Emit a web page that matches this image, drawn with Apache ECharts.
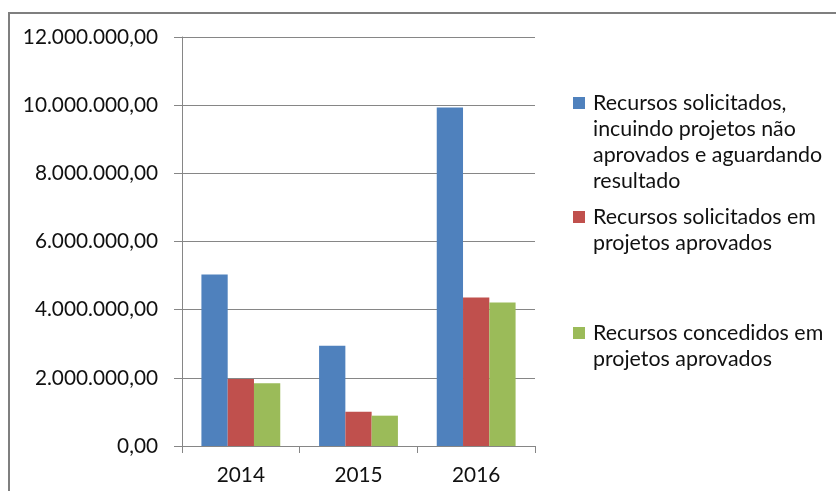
<!DOCTYPE html>
<html>
<head>
<meta charset="utf-8">
<script src="https://cdn.jsdelivr.net/npm/echarts@6/dist/echarts.min.js"></script>
<style>html,body{margin:0;padding:0;background:#fff}#c{width:836px;height:491px}</style>
</head>
<body>
<div id="c"></div>
<script>
const categories = ['2014', '2015', '2016'];
const seriesNames = [
  'Recursos solicitados,\nincuindo projetos não\naprovados e aguardando\nresultado',
  'Recursos solicitados em\nprojetos aprovados',
  'Recursos concedidos em\nprojetos aprovados'
];
const solicitadosTotal = [5035000, 2940000, 9930000];
const solicitadosAprovados = [1965000, 1005000, 4360000];
const concedidosAprovados = [1840000, 890000, 4210000];
const yTicks = { min: 0, max: 12000000, interval: 2000000 };

const colors = ['#4F81BD', '#C0504D', '#9BBB59'];
const FONT = 'Lato';
const FS = 20.8;
const LEG_FS = 21.4;
const LH = 26;

function brl(v) {
  const s = Math.round(v).toString().replace(/\B(?=(\d{3})+(?!\d))/g, '.');
  return s + ',00';
}
function iconFor(lines) {
  const h = lines * LH;
  return 'path://M0,0L15,0Z M0,7L12,7L12,19L0,19Z M0,' + h + 'L15,' + h + 'Z';
}
function legendFor(i, top) {
  const lines = seriesNames[i].split('\n').length;
  return {
    data: [seriesNames[i]],
    left: 573,
    top: top,
    padding: 0,
    orient: 'vertical',
    selectedMode: false,
    icon: iconFor(lines),
    itemWidth: 15,
    itemHeight: lines * LH,
    textStyle: { fontFamily: FONT, fontSize: LEG_FS, lineHeight: LH, color: '#111111' }
  };
}

const chart = echarts.init(document.getElementById('c'), null, { renderer: 'canvas' });
chart.setOption({
  animation: false,
  backgroundColor: '#ffffff',
  color: colors,
  textStyle: { fontFamily: FONT },
  grid: { left: 182, top: 37, right: 301, bottom: 45, containLabel: false },
  legend: [legendFor(0, 90), legendFor(1, 204), legendFor(2, 320)],
  xAxis: {
    type: 'category',
    data: categories,
    axisLine: { lineStyle: { color: '#868686', width: 1 } },
    axisTick: { show: true, length: 7, lineStyle: { color: '#868686' } },
    axisLabel: { margin: 19, fontFamily: FONT, fontSize: FS, color: '#111111' },
    splitLine: { show: false }
  },
  yAxis: {
    type: 'value',
    min: yTicks.min,
    max: yTicks.max,
    interval: yTicks.interval,
    axisLine: { show: true, lineStyle: { color: '#868686', width: 1 } },
    axisTick: { show: true, length: 8, lineStyle: { color: '#868686' } },
    axisLabel: { margin: 24, fontFamily: FONT, fontSize: FS, color: '#111111', formatter: brl },
    splitLine: { show: true, lineStyle: { color: '#868686', width: 1 } }
  },
  series: [
    { name: seriesNames[0], type: 'bar', data: solicitadosTotal, barGap: '0%', barCategoryGap: '33%' },
    { name: seriesNames[1], type: 'bar', data: solicitadosAprovados, barGap: '0%', barCategoryGap: '33%' },
    { name: seriesNames[2], type: 'bar', data: concedidosAprovados, barGap: '0%', barCategoryGap: '33%' }
  ],
  graphic: [
    { type: 'polyline', shape: { points: [[9, 491], [9, 13], [836, 13]] },
      style: { stroke: '#7f7f7f', lineWidth: 2, fill: null }, silent: true }
  ]
});
</script>
</body>
</html>
